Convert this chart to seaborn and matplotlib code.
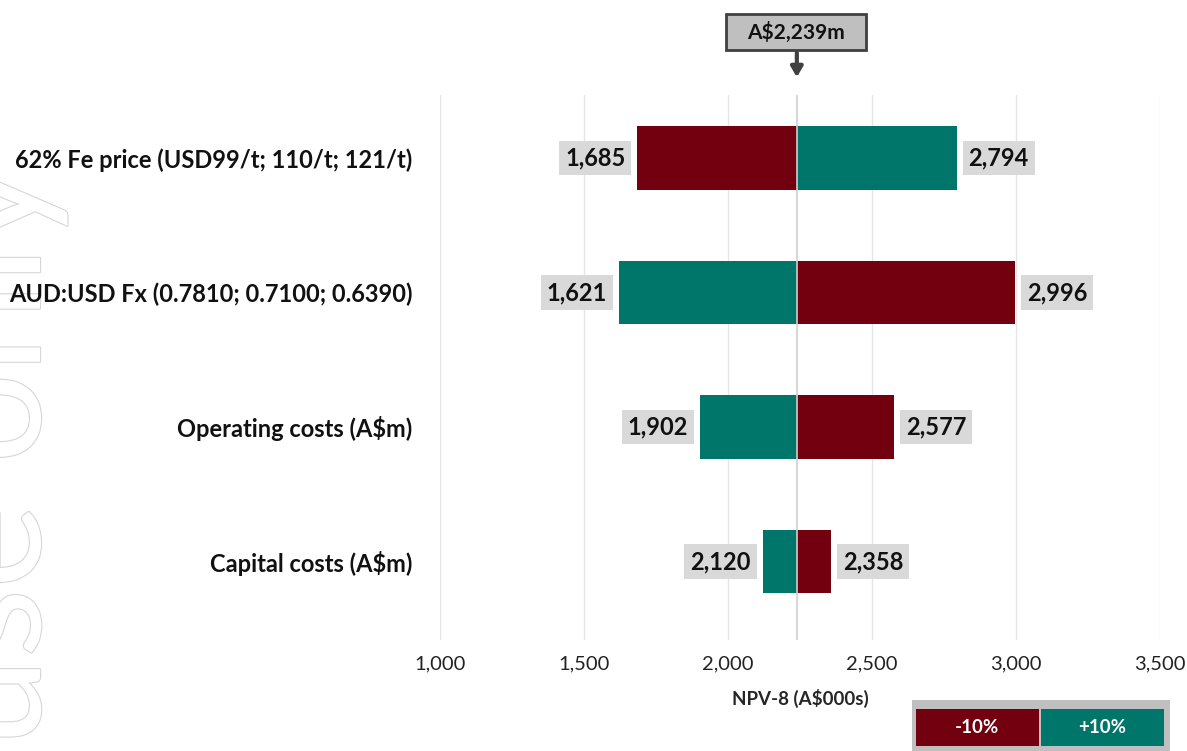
import matplotlib.pyplot as plt
import matplotlib.patheffects as pe
from matplotlib.patches import Rectangle
from matplotlib.ticker import FuncFormatter
import pandas as pd
import seaborn as sns

# Sensitivity data (NPV-8, A$000s)
drivers = [
    "62% Fe price (USD99/t; 110/t; 121/t)",
    "AUD:USD Fx (0.7810; 0.7100; 0.6390)",
    "Operating costs (A$m)",
    "Capital costs (A$m)",
]
npv_minus10 = [1685, 2996, 2577, 2358]
npv_plus10 = [2794, 1621, 1902, 2120]
base_npv = 2239
cases = ["-10%", "+10%"]
x_ticks = [1000, 1500, 2000, 2500, 3000, 3500]

RED = "#72000e"
TEAL = "#00756a"

sns.set_style("white")
plt.rcParams["font.family"] = ["Lato", "DejaVu Sans"]

# Long table: bars drawn from the base case (delta = 0)
df = pd.DataFrame({
    "driver": drivers * 2,
    "case": [cases[0]] * 4 + [cases[1]] * 4,
    "npv": npv_minus10 + npv_plus10,
})
df["delta"] = df["npv"] - base_npv

W, H = 1187, 751
fig = plt.figure(figsize=(W / 100, H / 100), dpi=100)
ax = fig.add_axes([440 / W, 1 - 640 / H, 720 / W, 545 / H])

sns.barplot(
    data=df, x="delta", y="driver", hue="case", order=drivers,
    palette={cases[0]: RED, cases[1]: TEAL}, dodge=False, width=0.47,
    orient="h", ax=ax, legend=False, linewidth=0, saturation=1,
)

ax.set_xlim(x_ticks[0] - base_npv, x_ticks[-1] - base_npv)
ax.set_ylim(3.584, -0.468)
ax.set_xticks([t - base_npv for t in x_ticks])
ax.xaxis.set_major_formatter(FuncFormatter(lambda v, p: f"{v + base_npv:,.0f}"))
ax.grid(axis="x", color="#e6e6e6", linewidth=1)
ax.set_axisbelow(True)
for s in ax.spines.values():
    s.set_visible(False)
ax.axvline(0, color="#d0d0d0", linewidth=1.2, zorder=5)

ax.tick_params(axis="x", length=0, pad=11, labelsize=14.5, labelcolor="#222222")
ax.tick_params(axis="y", length=0, pad=20)
plt.setp(ax.get_yticklabels(), fontweight="bold", fontsize=17, color="#111111")
ax.set_ylabel("")
ax.set_xlabel("NPV-8 (A$000s)", fontsize=13.5, fontweight="bold", labelpad=12)

# Value labels in grey boxes
box = dict(boxstyle="square,pad=0.25", facecolor="#d9d9d9", edgecolor="none")
for i, d in enumerate(drivers):
    for v in (npv_minus10[i], npv_plus10[i]):
        delta = v - base_npv
        off = -8.5 if delta < 0 else 8.5
        ax.annotate(f"{v:,}", xy=(delta, i), xytext=(off, 0), textcoords="offset points",
                    ha="right" if delta < 0 else "left", va="center",
                    fontsize=17, fontweight="bold", color="#111111", bbox=box)

# Base case callout
fig.patches.append(Rectangle((726 / W, 1 - 50 / H), 140 / W, 36 / H, transform=fig.transFigure,
                             facecolor="#bfbfbf", edgecolor="#404040", linewidth=2))
fig.text(796 / W, 1 - 32 / H, f"A${base_npv:,}m", ha="center", va="center",
         fontsize=15, fontweight="bold", color="#111111")
ax.annotate("", xy=(0, 1 + 15 / 545), xycoords=("data", "axes fraction"),
            xytext=(0, 1 + 45 / 545), textcoords=("data", "axes fraction"),
            arrowprops=dict(arrowstyle="-|>,head_length=0.6,head_width=0.35",
                            color="#404040", linewidth=3))

# Legend
fig.patches.append(Rectangle((912 / W, 0), 258 / W, 51 / H, transform=fig.transFigure,
                             facecolor="#bfbfbf", edgecolor="none"))
for x0, c, lab in [(916, RED, cases[0]), (1041, TEAL, cases[1])]:
    fig.patches.append(Rectangle((x0 / W, 5 / H), 123 / W, 37 / H, transform=fig.transFigure,
                                 facecolor=c, edgecolor="none"))
    fig.text((x0 + 61) / W, 23.5 / H, lab, ha="center", va="center",
             fontsize=13.5, fontweight="bold", color="white")

# Watermark (behind everything else)
fig.text(40 / W, 4 / H, "use only", rotation=90, rotation_mode="anchor",
         ha="left", va="baseline", fontsize=115, color="white", zorder=-5,
         path_effects=[pe.withStroke(linewidth=1.6, foreground="#d6d6d6")])

fig.savefig("out.png", dpi=100)
